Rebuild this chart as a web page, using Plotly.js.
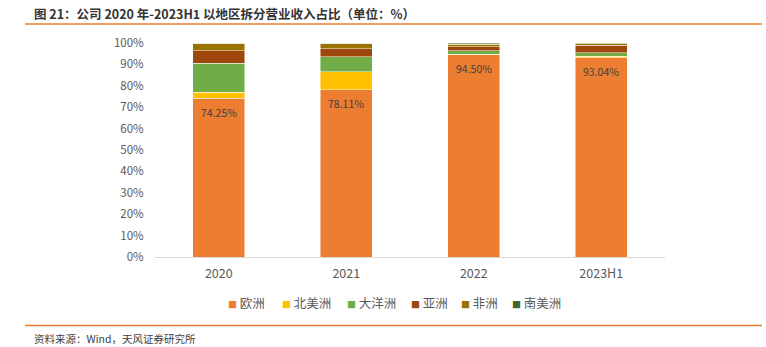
<!DOCTYPE html>
<html>
<head>
<meta charset="utf-8">
<script src="https://cdn.plot.ly/plotly-3.0.1.min.js"></script>
<style>html,body{margin:0;padding:0;background:#fff;}#chart{width:766px;height:347px;}</style>
</head>
<body>
<div id="chart"></div>
<script>
const categories = ['2020', '2021', '2022', '2023H1'];
const europe = [74.25, 78.11, 94.50, 93.04];
const northAmerica = [2.75, 8.5, 0.3, 0.8];
const oceania = [13.6, 6.9, 1.5, 1.6];
const asia = [5.8, 3.8, 2.0, 3.4];
const africa = [3.4, 2.5, 1.2, 0.8];
const southAmerica = [0.2, 0.19, 0.5, 0.36];
const europeLabels = ['74.25%', '78.11%', '94.50%', '93.04%'];
const seriesNames = ['欧洲', '北美洲', '大洋洲', '亚洲', '非洲', '南美洲'];
const seriesValues = [europe, northAmerica, oceania, asia, africa, southAmerica];
const colors = ['#ED7D31', '#FFC000', '#70AD47', '#9E480E', '#997300', '#43682B'];

const FONT = '"Noto Sans CJK SC", "Noto Sans", sans-serif';

// plot area in pixels
const PL = 155, PR = 665, PT = 43, PB = 257;
const px = v => (v - PL) / (PR - PL);
const py = v => (PB - v) / (PB - PT);

const traces = seriesNames.map((name, i) => ({
  type: 'bar',
  name: name,
  x: categories,
  y: seriesValues[i],
  marker: {color: colors[i], line: {color: 'rgba(255,255,255,0.6)', width: 0.8}},
  hoverinfo: 'x+y+name',
  showlegend: false
}));

// category axis: annotations placed by category index
const annotations = categories.map((c, i) => ({
  x: i, y: europe[i], xref: 'x', yref: 'y',
  text: europeLabels[i], showarrow: false, yshift: -14,
  font: {family: FONT, size: 10.5, color: '#404040'}
}));

// legend drawn as annotations (marker square + name)
const legendX = [226, 280, 345, 409, 459, 510];
seriesNames.forEach((n, i) => {
  annotations.push({
    xref: 'paper', yref: 'paper', x: px(legendX[i]), y: py(302),
    xanchor: 'left', yanchor: 'middle', showarrow: false,
    text: '<span style="color:' + colors[i] + ';font-size:9px">■</span> ' + n,
    font: {family: FONT, size: 12.5, color: '#595959'}
  });
});

annotations.push({
  xref: 'paper', yref: 'paper', x: px(32), y: py(13),
  xanchor: 'left', yanchor: 'middle', showarrow: false,
  text: '<b>图 21：公司 2020 年-2023H1 以地区拆分营业收入占比（单位：%）</b>',
  font: {family: FONT, size: 12.5, color: '#333333'}
});
annotations.push({
  xref: 'paper', yref: 'paper', x: px(32), y: py(338),
  xanchor: 'left', yanchor: 'middle', showarrow: false,
  text: '资料来源：Wind，天风证券研究所',
  font: {family: FONT, size: 10.5, color: '#404040'}
});

const layout = {
  width: 766, height: 347,
  margin: {l: PL, r: 766 - PR, t: PT, b: 347 - PB},
  paper_bgcolor: '#ffffff', plot_bgcolor: '#ffffff',
  barmode: 'stack', bargap: 0.59,
  showlegend: false,
  xaxis: {
    type: 'category', showline: true, linecolor: '#D9D9D9', linewidth: 1,
    ticks: 'outside', ticklen: 5, tickcolor: 'rgba(0,0,0,0)',
    tickfont: {family: FONT, size: 12.5, color: '#595959'}, showgrid: false, fixedrange: true
  },
  yaxis: {
    range: [0, 100], dtick: 10, ticksuffix: '%', showgrid: false, zeroline: false, showline: false,
    tickfont: {family: FONT, size: 11.5, color: '#595959'},
    ticks: 'outside', ticklen: 8, tickcolor: 'rgba(0,0,0,0)', fixedrange: true
  },
  font: {family: FONT},
  annotations: annotations,
  shapes: [
    {type: 'line', xref: 'paper', yref: 'paper', x0: px(25), x1: px(762),
     y0: py(24), y1: py(24), line: {color: '#ED7D31', width: 1.5}},
    {type: 'line', xref: 'paper', yref: 'paper', x0: px(25), x1: px(762),
     y0: py(325.5), y1: py(325.5), line: {color: '#ED7D31', width: 1.5}}
  ]
};

Plotly.newPlot('chart', traces, layout, {displayModeBar: false, staticPlot: true});
</script>
</body>
</html>
